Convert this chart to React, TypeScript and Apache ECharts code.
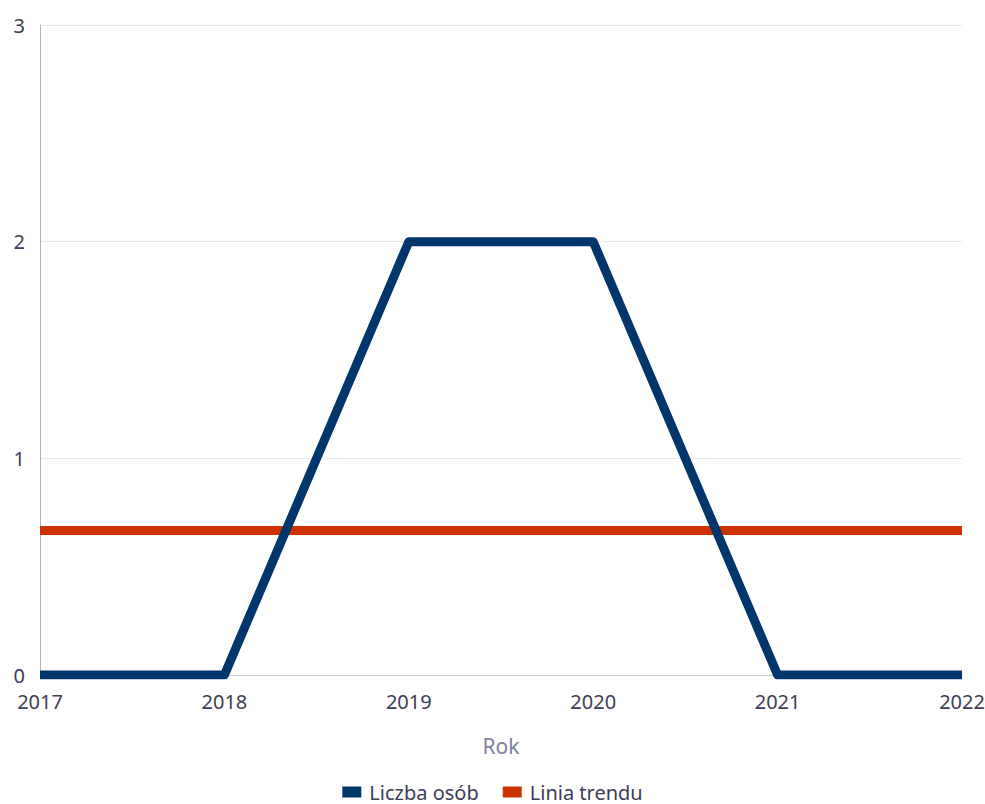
import React, { useEffect, useRef } from "react";
import * as echarts from "echarts";

const years = ["2017", "2018", "2019", "2020", "2021", "2022"];
const liczbaOsob = [0, 0, 2, 2, 0, 0];
const liniaTrendu = [0.667, 0.667, 0.667, 0.667, 0.667, 0.667];
const yTicks = [0, 1, 2, 3];

export default function App() {
  const ref = useRef<HTMLDivElement>(null);
  useEffect(() => {
    if (!ref.current) return;
    const chart = echarts.init(ref.current, undefined, { renderer: "svg" });
    const font = "'Noto Sans', 'Open Sans', sans-serif";
    chart.setOption({
      animation: false,
      textStyle: { fontFamily: font },
      grid: {
        left: 40,
        right: 23,
        top: 25,
        bottom: 129,
        containLabel: false,
        outerBoundsMode: "none",
      },
      legend: {
        top: 781,
        left: "center",
        padding: 0,
        itemWidth: 19,
        itemHeight: 11,
        itemGap: 24,
        icon: "rect",
        textStyle: {
          fontSize: 20,
          lineHeight: 22,
          color: "#3d3d55",
          fontFamily: font,
          padding: [0, 0, 0, 3],
        },
        data: ["Liczba osób", "Linia trendu"],
      },
      xAxis: {
        type: "category",
        data: years,
        boundaryGap: false,
        name: "Rok",
        nameLocation: "middle",
        nameGap: 60,
        nameTextStyle: { fontSize: 21, color: "#8080a0", fontFamily: font },
        axisLine: { show: true, lineStyle: { color: "#c8c8d8", width: 1 } },
        axisTick: { show: false },
        axisLabel: { fontSize: 20, color: "#3d3d55", margin: 16, fontFamily: font },
        splitLine: { show: false },
      },
      yAxis: {
        type: "value",
        min: yTicks[0],
        max: yTicks[yTicks.length - 1],
        interval: 1,
        axisLine: { show: true, lineStyle: { color: "#b0b0c8", width: 1 } },
        axisTick: { show: false },
        axisLabel: { fontSize: 20, color: "#3d3d55", margin: 15, fontFamily: font },
        splitLine: { show: true, lineStyle: { color: "#e8e8f0", width: 1 } },
      },
      series: [
        {
          name: "Liczba osób",
          type: "line",
          data: liczbaOsob,
          showSymbol: false,
          symbol: "none",
          color: "#00366b",
          lineStyle: { width: 9, color: "#00366b", join: "round", cap: "butt" },
          z: 3,
        },
        {
          name: "Linia trendu",
          type: "line",
          data: liniaTrendu,
          showSymbol: false,
          symbol: "none",
          color: "#cc3300",
          lineStyle: { width: 9, color: "#cc3300", cap: "butt" },
          z: 2,
        },
      ],
    });
    return () => chart.dispose();
  }, []);
  return (
    <div
      ref={ref}
      style={{ position: "absolute", left: 0, top: 0, width: 985, height: 804 }}
    />
  );
}
